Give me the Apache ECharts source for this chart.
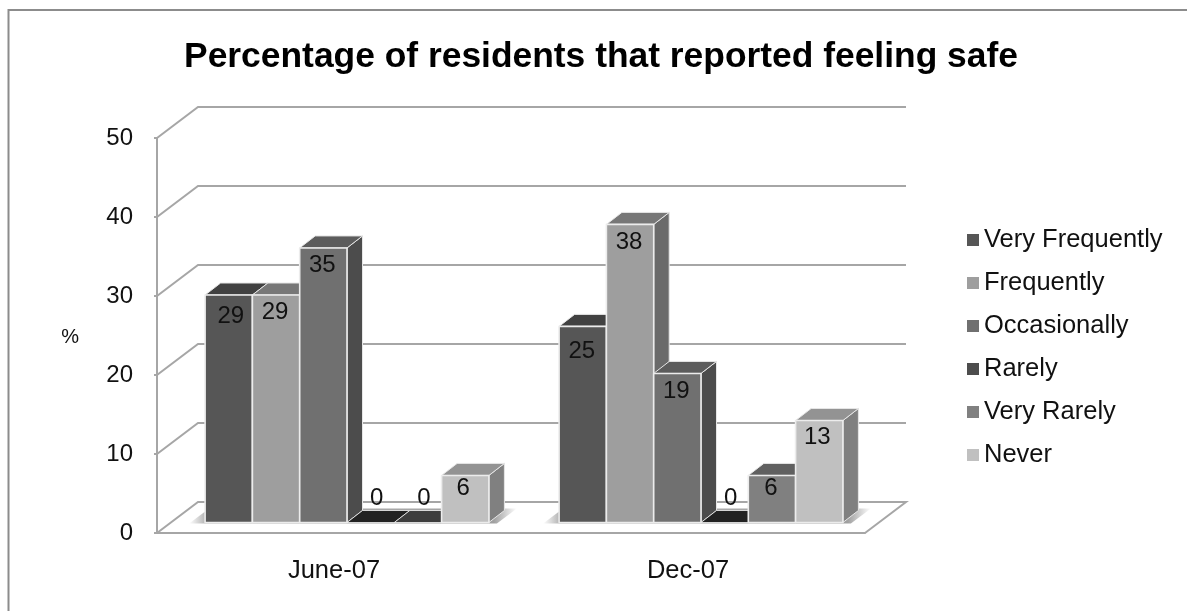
<!DOCTYPE html>
<html><head><meta charset="utf-8">
<style>html,body{margin:0;padding:0;background:#fff}#c{width:1187px;height:611px;filter:blur(0.45px)}</style>
<script src="https://cdn.jsdelivr.net/npm/echarts@6/dist/echarts.min.js"></script>
</head><body><div id="c"></div>
<script>
const categories = ['June-07', 'Dec-07'];
const seriesNames = ['Very Frequently', 'Frequently', 'Occasionally', 'Rarely', 'Very Rarely', 'Never'];
const veryFrequently = [29, 25];
const frequently = [29, 38];
const occasionally = [35, 19];
const rarely = [0, 0];
const veryRarely = [0, 6];
const never = [6, 13];
const yTicks = [0, 10, 20, 30, 40, 50];
const seriesValues = [veryFrequently, frequently, occasionally, rarely, veryRarely, never];

const frontColors = ['#565656', '#9e9e9e', '#707070', '#4d4d4d', '#808080', '#c0c0c0'];
const topColors = ['#414141', '#777777', '#5c5c5c', '#222222', '#606060', '#939393'];
const sideColors = ['#404040', '#6a6a6a', '#4c4c4c', '#222222', '#5a5a5a', '#808080'];
const zeroTopColors = ['#414141', '#777777', '#5c5c5c', '#222222', '#3d3d3d', '#939393'];
const labelDrop = [[21, 25], [17.5, 18], [17, 18], [0, 0], [0, 13], [13, 17]];
const labelShift = [[2, -1], [-1, -1], [-1, -1], [6, 6], [6, -1], [-2, -2]];

const WALL = [41, -31], PLANE = [13, -10.5], DEPTH = [15.5, -12];
const BAR_FRAC = 47.3 / 354, PERSPECTIVE = 0.993;

const poly = (points, fill, stroke, lw) => ({
  type: 'polygon', shape: { points }, silent: true,
  style: { fill, stroke: stroke || null, lineWidth: lw || 0, lineJoin: 'round' }
});

function barRender(si) {
  return function (params, api) {
    const cat = api.value(0), v = api.value(1);
    const c0 = api.coord([cat, 0]), c1 = api.coord([cat, v]);
    const band = api.size([1, 0])[0], w = band * BAR_FRAC;
    const x0 = c0[0] + PLANE[0] + (si - 3) * w, x1 = x0 + w;
    const yb = c0[1] + PLANE[1];
    const yt = yb - (c0[1] - c1[1]) * PERSPECTIVE;
    const ch = [];
    const edge = '#e6e6e6';
    if (v > 0) {
      ch.push(poly([[x1, yb], [x1 + DEPTH[0], yb + DEPTH[1]], [x1 + DEPTH[0], yt + DEPTH[1]], [x1, yt]], sideColors[si], edge, 1));
      ch.push(poly([[x0, yt], [x0 + DEPTH[0], yt + DEPTH[1]], [x1 + DEPTH[0], yt + DEPTH[1]], [x1, yt]], topColors[si], edge, 1));
      ch.push(poly([[x0, yb], [x0, yt], [x1, yt], [x1, yb]], frontColors[si], '#ececec', 1.6));
    } else {
      ch.push(poly([[x0, yb], [x0 + DEPTH[0], yb + DEPTH[1]], [x1 + DEPTH[0], yb + DEPTH[1]], [x1, yb]], zeroTopColors[si], '#f4f4f4', 0.8));
    }
    const lx = (x0 + x1) / 2 + labelShift[si][cat];
    const ly = v > 0 ? yt + labelDrop[si][cat] : yb - 24;
    ch.push({
      type: 'text', silent: true, z2: 5,
      style: { x: lx, y: ly, text: String(v), fill: '#111', font: '24px "Liberation Sans"', align: 'center', verticalAlign: 'middle' }
    });
    return { type: 'group', children: ch };
  };
}

function wallRender(params, api) {
  const v = api.value(0);
  const left = api.coord([0, v]), band = api.size([1, 0])[0];
  const xL = left[0] - band / 2, xR = xL + band * categories.length, y = left[1];
  const st = { stroke: '#a6a6a6', lineWidth: 2, fill: null };
  const pts = [[xL, y], [xL + WALL[0], y + WALL[1]], [xR + WALL[0], y + WALL[1]]];
  if (v === 0) pts.push([xR, y]);
  return { type: 'polyline', silent: true, shape: { points: pts }, style: st };
}

function shadowRender(params, api) {
  const c = api.coord([api.value(0), 0]), band = api.size([1, 0])[0], w = band * BAR_FRAC;
  const x0 = c[0] + PLANE[0] - 3 * w, x1 = x0 + 6 * w, yb = c[1] + PLANE[1];
  return poly([[x0 - 16, yb + 1], [x0 + 4, yb - 14], [x1 + 28, yb - 14], [x1 + 8, yb + 1]], {
    type: 'linear', x: 0, y: 0, x2: 1, y2: 0,
    colorStops: [{ offset: 0, color: '#ffffff' }, { offset: 0.05, color: '#b4b4b4' }, { offset: 0.93, color: '#a0a0a0' }, { offset: 1, color: '#ffffff' }]
  });
}

const series = [
  { type: 'custom', name: '_walls', silent: true, z: 1, data: yTicks.map(t => [t]), encode: { y: 0 }, renderItem: wallRender },
  { type: 'custom', name: '_shadow', silent: true, z: 2, data: categories.map((_, i) => [i]), encode: { x: 0 }, renderItem: shadowRender }
];
seriesNames.forEach((name, si) => series.push({
  type: 'custom', name, silent: true, z: 3,
  itemStyle: { color: frontColors[si] },
  data: seriesValues[si].map((v, i) => [i, v]),
  encode: { x: 0, y: 1 },
  renderItem: barRender(si)
}));

const chart = echarts.init(document.getElementById('c'), null, { renderer: 'canvas' });
chart.setOption({
  animation: false,
  backgroundColor: '#fff',
  title: {
    text: 'Percentage of residents that reported feeling safe',
    left: 596, top: 35, textAlign: 'center',
    textStyle: { fontFamily: 'Liberation Sans', fontWeight: 'bold', fontSize: 35.4, color: '#000' }
  },
  grid: { left: 157, right: 322, top: 138, bottom: 78, containLabel: false },
  xAxis: {
    type: 'category', data: categories,
    axisLine: { lineStyle: { color: '#a6a6a6', width: 2 } },
    axisTick: { length: 5, alignWithLabel: false, lineStyle: { color: '#a6a6a6', width: 2 } },
    axisLabel: { color: '#111', fontFamily: 'Liberation Sans', fontSize: 25.5, margin: 25 }
  },
  yAxis: {
    type: 'value', min: 0, max: 50, interval: 10,
    name: '%', nameLocation: 'middle', nameRotate: 0, nameGap: 78,
    nameTextStyle: { color: '#111', fontFamily: 'Liberation Sans', fontSize: 20, verticalAlign: 'top', lineHeight: 4 },
    splitLine: { show: false },
    axisLine: { show: true, lineStyle: { color: '#a6a6a6', width: 2 } },
    axisTick: { show: true, length: 3, lineStyle: { color: '#a6a6a6', width: 2 } },
    axisLabel: { color: '#111', fontFamily: 'Liberation Sans', fontSize: 24, margin: 24 }
  },
  legend: {
    orient: 'vertical', left: 962, top: 222, icon: 'rect',
    itemWidth: 12, itemHeight: 12, itemGap: 17,
    data: seriesNames,
    selectedMode: false,
    textStyle: { color: '#111', fontFamily: 'Liberation Sans', fontSize: 25.5, height: 24, lineHeight: 24 }
  },
  graphic: [{
    type: 'polyline', silent: true,
    shape: { points: [[8.5, 611], [8.5, 10], [1187, 10]] },
    style: { stroke: '#8c8c8c', lineWidth: 2, fill: null }
  }],
  series
});
</script></body></html>
